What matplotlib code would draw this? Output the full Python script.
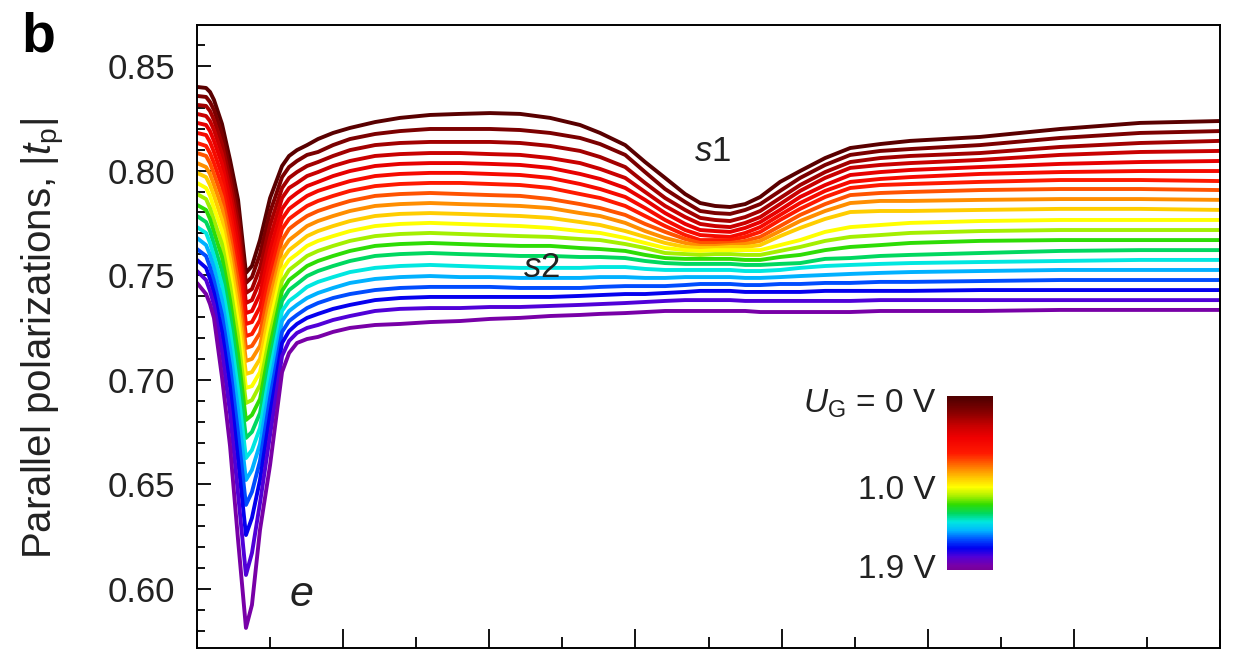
import numpy as np
import matplotlib
matplotlib.use("Agg")
import matplotlib.pyplot as plt
from matplotlib.colors import LinearSegmentedColormap, Normalize
from matplotlib.cm import ScalarMappable
from matplotlib.ticker import MultipleLocator, FormatStrFormatter

plt.rcParams["font.family"] = ["Liberation Sans", "DejaVu Sans"]
plt.rcParams["mathtext.fontset"] = "custom"
plt.rcParams["mathtext.rm"] = "Liberation Sans"
plt.rcParams["mathtext.it"] = "Liberation Sans:italic"
plt.rcParams["mathtext.bf"] = "Liberation Sans:bold"

TEXT = "#222222"

# x positions of the sampled points (axis in major-tick units, labels cropped off)
x_pos = [0.000, 0.062, 0.089, 0.116, 0.171, 0.226, 0.281, 0.335, 0.376, 0.431,
         0.500, 0.582, 0.630, 0.684, 0.753, 0.828, 0.931, 1.047, 1.218, 1.389,
         1.595, 1.800, 2.005, 2.211, 2.416, 2.621, 2.758, 2.930, 3.066, 3.203,
         3.340, 3.443, 3.545, 3.648, 3.751, 3.854, 3.990, 4.127, 4.298, 4.470,
         4.675, 4.880, 5.359, 5.907, 6.454, 7.000]

gate_voltages = [0.0, 0.1, 0.2, 0.3, 0.4, 0.5, 0.6, 0.7, 0.8, 0.9,
                 1.0, 1.1, 1.2, 1.3, 1.4, 1.5, 1.6, 1.7, 1.8, 1.9]

# |t_p|, one row per gate voltage
tp_rows = [
    [0.8400, 0.8395, 0.8376, 0.8338, 0.8223, 0.8051, 0.7860, 0.7511, 0.7544, 0.7668,
     0.7869, 0.8022, 0.8070, 0.8098, 0.8122, 0.8151, 0.8180, 0.8204, 0.8232, 0.8252,
     0.8266, 0.8271, 0.8275, 0.8271, 0.8252, 0.8218, 0.8180, 0.8122, 0.8041, 0.7965,
     0.7888, 0.7845, 0.7831, 0.7826, 0.7840, 0.7874, 0.7946, 0.7998, 0.8060, 0.8108,
     0.8127, 0.8142, 0.8161, 0.8199, 0.8228, 0.8237],  # 0.0 V
    [0.8357, 0.8352, 0.8328, 0.8290, 0.8175, 0.8003, 0.7807, 0.7463, 0.7491, 0.7601,
     0.7802, 0.7969, 0.8017, 0.8046, 0.8075, 0.8089, 0.8122, 0.8151, 0.8175, 0.8189,
     0.8199, 0.8199, 0.8199, 0.8194, 0.8180, 0.8156, 0.8127, 0.8075, 0.7993, 0.7912,
     0.7850, 0.7807, 0.7797, 0.7793, 0.7812, 0.7840, 0.7903, 0.7965, 0.8027, 0.8075,
     0.8094, 0.8103, 0.8122, 0.8156, 0.8180, 0.8189],  # 0.1 V
    [0.8314, 0.8309, 0.8285, 0.8242, 0.8127, 0.7955, 0.7754, 0.7415, 0.7434, 0.7535,
     0.7740, 0.7917, 0.7965, 0.7993, 0.8022, 0.8041, 0.8070, 0.8098, 0.8122, 0.8132,
     0.8137, 0.8137, 0.8137, 0.8132, 0.8118, 0.8094, 0.8065, 0.8017, 0.7941, 0.7869,
     0.7812, 0.7774, 0.7764, 0.7759, 0.7778, 0.7807, 0.7869, 0.7931, 0.7993, 0.8041,
     0.8060, 0.8070, 0.8084, 0.8113, 0.8132, 0.8142],  # 0.2 V
    [0.8271, 0.8261, 0.8237, 0.8194, 0.8079, 0.7907, 0.7702, 0.7367, 0.7381, 0.7472,
     0.7678, 0.7869, 0.7917, 0.7941, 0.7974, 0.7993, 0.8022, 0.8046, 0.8070, 0.8079,
     0.8084, 0.8084, 0.8079, 0.8075, 0.8060, 0.8036, 0.8008, 0.7965, 0.7898, 0.7831,
     0.7778, 0.7745, 0.7735, 0.7730, 0.7750, 0.7778, 0.7840, 0.7903, 0.7965, 0.8013,
     0.8027, 0.8036, 0.8051, 0.8075, 0.8089, 0.8094],  # 0.3 V
    [0.8228, 0.8218, 0.8189, 0.8142, 0.8032, 0.7860, 0.7649, 0.7319, 0.7329, 0.7410,
     0.7620, 0.7817, 0.7864, 0.7893, 0.7926, 0.7946, 0.7974, 0.7998, 0.8022, 0.8032,
     0.8036, 0.8036, 0.8032, 0.8027, 0.8013, 0.7984, 0.7960, 0.7917, 0.7860, 0.7797,
     0.7745, 0.7716, 0.7711, 0.7707, 0.7726, 0.7754, 0.7812, 0.7874, 0.7931, 0.7979,
     0.7993, 0.8003, 0.8017, 0.8032, 0.8041, 0.8046],  # 0.4 V
    [0.8180, 0.8170, 0.8137, 0.8089, 0.7979, 0.7802, 0.7592, 0.7267, 0.7276, 0.7348,
     0.7563, 0.7769, 0.7817, 0.7845, 0.7879, 0.7903, 0.7926, 0.7950, 0.7974, 0.7984,
     0.7989, 0.7989, 0.7984, 0.7979, 0.7965, 0.7936, 0.7912, 0.7874, 0.7821, 0.7764,
     0.7716, 0.7692, 0.7687, 0.7683, 0.7702, 0.7730, 0.7788, 0.7845, 0.7903, 0.7946,
     0.7960, 0.7969, 0.7984, 0.7993, 0.7998, 0.7998],  # 0.5 V
    [0.8132, 0.8118, 0.8084, 0.8036, 0.7926, 0.7750, 0.7530, 0.7209, 0.7219, 0.7286,
     0.7506, 0.7721, 0.7769, 0.7797, 0.7831, 0.7855, 0.7879, 0.7903, 0.7926, 0.7936,
     0.7941, 0.7941, 0.7936, 0.7931, 0.7917, 0.7888, 0.7869, 0.7831, 0.7783, 0.7735,
     0.7692, 0.7668, 0.7668, 0.7668, 0.7683, 0.7707, 0.7764, 0.7817, 0.7874, 0.7917,
     0.7931, 0.7936, 0.7946, 0.7955, 0.7955, 0.7950],  # 0.6 V
    [0.8084, 0.8070, 0.8036, 0.7984, 0.7874, 0.7692, 0.7472, 0.7152, 0.7162, 0.7224,
     0.7448, 0.7668, 0.7721, 0.7750, 0.7783, 0.7807, 0.7831, 0.7855, 0.7879, 0.7888,
     0.7893, 0.7888, 0.7883, 0.7879, 0.7864, 0.7840, 0.7821, 0.7788, 0.7745, 0.7707,
     0.7673, 0.7654, 0.7654, 0.7654, 0.7664, 0.7683, 0.7735, 0.7788, 0.7840, 0.7883,
     0.7893, 0.7898, 0.7907, 0.7912, 0.7912, 0.7907],  # 0.7 V
    [0.8036, 0.8017, 0.7984, 0.7931, 0.7821, 0.7635, 0.7405, 0.7090, 0.7100, 0.7162,
     0.7391, 0.7620, 0.7668, 0.7697, 0.7735, 0.7759, 0.7783, 0.7807, 0.7831, 0.7840,
     0.7845, 0.7840, 0.7836, 0.7831, 0.7821, 0.7797, 0.7783, 0.7750, 0.7711, 0.7678,
     0.7654, 0.7640, 0.7640, 0.7644, 0.7649, 0.7664, 0.7711, 0.7759, 0.7807, 0.7845,
     0.7855, 0.7855, 0.7860, 0.7864, 0.7864, 0.7860],  # 0.8 V
    [0.7989, 0.7969, 0.7931, 0.7879, 0.7764, 0.7578, 0.7343, 0.7028, 0.7037, 0.7100,
     0.7334, 0.7573, 0.7620, 0.7649, 0.7687, 0.7711, 0.7735, 0.7759, 0.7783, 0.7793,
     0.7797, 0.7793, 0.7788, 0.7783, 0.7774, 0.7754, 0.7740, 0.7711, 0.7683, 0.7654,
     0.7635, 0.7630, 0.7630, 0.7635, 0.7635, 0.7644, 0.7687, 0.7726, 0.7769, 0.7802,
     0.7807, 0.7807, 0.7812, 0.7817, 0.7817, 0.7812],  # 0.9 V
    [0.7941, 0.7917, 0.7879, 0.7821, 0.7711, 0.7515, 0.7276, 0.6961, 0.6970, 0.7037,
     0.7276, 0.7525, 0.7573, 0.7601, 0.7640, 0.7664, 0.7687, 0.7711, 0.7735, 0.7745,
     0.7750, 0.7745, 0.7740, 0.7735, 0.7726, 0.7711, 0.7702, 0.7678, 0.7654, 0.7630,
     0.7620, 0.7616, 0.7620, 0.7620, 0.7620, 0.7620, 0.7644, 0.7668, 0.7707, 0.7730,
     0.7740, 0.7750, 0.7759, 0.7764, 0.7764, 0.7764],  # 1.0 V
    [0.7888, 0.7864, 0.7821, 0.7764, 0.7649, 0.7453, 0.7205, 0.6889, 0.6903, 0.6975,
     0.7219, 0.7472, 0.7525, 0.7554, 0.7592, 0.7616, 0.7640, 0.7664, 0.7687, 0.7697,
     0.7702, 0.7697, 0.7692, 0.7687, 0.7683, 0.7673, 0.7668, 0.7649, 0.7630, 0.7606,
     0.7601, 0.7597, 0.7601, 0.7601, 0.7597, 0.7597, 0.7616, 0.7635, 0.7664, 0.7683,
     0.7692, 0.7702, 0.7711, 0.7716, 0.7716, 0.7716],  # 1.1 V
    [0.7836, 0.7812, 0.7769, 0.7707, 0.7587, 0.7381, 0.7123, 0.6808, 0.6832, 0.6908,
     0.7162, 0.7425, 0.7477, 0.7506, 0.7544, 0.7568, 0.7592, 0.7616, 0.7640, 0.7649,
     0.7654, 0.7649, 0.7644, 0.7640, 0.7640, 0.7630, 0.7625, 0.7616, 0.7597, 0.7582,
     0.7578, 0.7578, 0.7578, 0.7578, 0.7573, 0.7573, 0.7587, 0.7597, 0.7620, 0.7635,
     0.7644, 0.7654, 0.7664, 0.7668, 0.7668, 0.7668],  # 1.2 V
    [0.7783, 0.7754, 0.7711, 0.7649, 0.7520, 0.7310, 0.7042, 0.6722, 0.6751, 0.6841,
     0.7104, 0.7377, 0.7429, 0.7458, 0.7496, 0.7520, 0.7544, 0.7568, 0.7592, 0.7601,
     0.7606, 0.7601, 0.7597, 0.7592, 0.7592, 0.7587, 0.7587, 0.7582, 0.7568, 0.7558,
     0.7554, 0.7554, 0.7554, 0.7554, 0.7549, 0.7549, 0.7554, 0.7558, 0.7578, 0.7582,
     0.7592, 0.7597, 0.7606, 0.7616, 0.7620, 0.7620],  # 1.3 V
    [0.7730, 0.7702, 0.7654, 0.7592, 0.7453, 0.7233, 0.6951, 0.6626, 0.6664, 0.6770,
     0.7042, 0.7329, 0.7377, 0.7405, 0.7444, 0.7468, 0.7491, 0.7515, 0.7535, 0.7544,
     0.7549, 0.7544, 0.7539, 0.7535, 0.7535, 0.7535, 0.7539, 0.7539, 0.7530, 0.7525,
     0.7525, 0.7525, 0.7525, 0.7525, 0.7520, 0.7520, 0.7525, 0.7535, 0.7544, 0.7549,
     0.7554, 0.7558, 0.7563, 0.7568, 0.7573, 0.7573],  # 1.4 V
    [0.7678, 0.7644, 0.7597, 0.7535, 0.7381, 0.7152, 0.6856, 0.6521, 0.6569, 0.6693,
     0.6980, 0.7281, 0.7329, 0.7358, 0.7391, 0.7415, 0.7439, 0.7463, 0.7482, 0.7491,
     0.7496, 0.7491, 0.7491, 0.7487, 0.7487, 0.7487, 0.7491, 0.7491, 0.7487, 0.7487,
     0.7491, 0.7491, 0.7491, 0.7491, 0.7487, 0.7487, 0.7491, 0.7496, 0.7501, 0.7506,
     0.7511, 0.7515, 0.7520, 0.7525, 0.7525, 0.7525],  # 1.5 V
    [0.7625, 0.7592, 0.7539, 0.7472, 0.7310, 0.7066, 0.6746, 0.6402, 0.6464, 0.6612,
     0.6913, 0.7229, 0.7281, 0.7310, 0.7343, 0.7367, 0.7391, 0.7410, 0.7429, 0.7439,
     0.7444, 0.7444, 0.7444, 0.7439, 0.7439, 0.7439, 0.7444, 0.7448, 0.7448, 0.7448,
     0.7453, 0.7458, 0.7458, 0.7458, 0.7453, 0.7453, 0.7458, 0.7458, 0.7463, 0.7463,
     0.7468, 0.7468, 0.7472, 0.7477, 0.7477, 0.7477],  # 1.6 V
    [0.7573, 0.7535, 0.7482, 0.7415, 0.7229, 0.6966, 0.6617, 0.6258, 0.6340, 0.6521,
     0.6837, 0.7176, 0.7233, 0.7267, 0.7296, 0.7315, 0.7339, 0.7358, 0.7381, 0.7391,
     0.7396, 0.7396, 0.7396, 0.7396, 0.7396, 0.7401, 0.7405, 0.7410, 0.7410, 0.7415,
     0.7420, 0.7425, 0.7425, 0.7425, 0.7420, 0.7420, 0.7420, 0.7420, 0.7425, 0.7425,
     0.7425, 0.7425, 0.7429, 0.7429, 0.7429, 0.7429],  # 1.7 V
    [0.7520, 0.7477, 0.7425, 0.7358, 0.7133, 0.6841, 0.6454, 0.6067, 0.6172, 0.6411,
     0.6736, 0.7114, 0.7186, 0.7224, 0.7248, 0.7262, 0.7286, 0.7305, 0.7329, 0.7339,
     0.7343, 0.7343, 0.7348, 0.7348, 0.7353, 0.7358, 0.7362, 0.7367, 0.7372, 0.7377,
     0.7381, 0.7381, 0.7381, 0.7381, 0.7377, 0.7377, 0.7377, 0.7377, 0.7377, 0.7377,
     0.7381, 0.7381, 0.7381, 0.7381, 0.7381, 0.7381],  # 1.8 V
    [0.7463, 0.7410, 0.7362, 0.7296, 0.7013, 0.6684, 0.6234, 0.5814, 0.5924, 0.6282,
     0.6593, 0.7037, 0.7128, 0.7176, 0.7195, 0.7205, 0.7229, 0.7248, 0.7262, 0.7267,
     0.7276, 0.7281, 0.7291, 0.7296, 0.7305, 0.7310, 0.7315, 0.7319, 0.7324, 0.7329,
     0.7329, 0.7329, 0.7329, 0.7329, 0.7329, 0.7324, 0.7324, 0.7324, 0.7324, 0.7324,
     0.7329, 0.7329, 0.7329, 0.7334, 0.7334, 0.7334],  # 1.9 V
]

yticks = [0.60, 0.65, 0.70, 0.75, 0.80, 0.85]
cbar_ticks = [0.0, 1.0, 1.9]
cbar_labels = [r"$U_{\mathrm{G}}$ = 0 V", "1.0 V", "1.9 V"]

# colour scale of the gate voltage
cmap = LinearSegmentedColormap.from_list("ug", [
    (0.000, "#500000"), (0.025, "#5a0000"), (0.100, "#8c0000"),
    (0.170, "#c80000"), (0.240, "#f00000"), (0.330, "#ff1a00"),
    (0.400, "#ff7000"), (0.470, "#ffc800"), (0.525, "#ffff00"),
    (0.575, "#a8f000"), (0.625, "#30dc00"), (0.675, "#00d860"),
    (0.725, "#00e8e0"), (0.775, "#00b4ff"), (0.825, "#0050ff"),
    (0.875, "#0000f0"), (0.925, "#5000d8"), (0.975, "#7800a8"),
    (1.000, "#780098"),
])
norm = Normalize(vmin=-0.05, vmax=1.95)

W, H = 1247, 650
fig = plt.figure(figsize=(W / 100, H / 100), dpi=100)
ax = fig.add_axes([197 / W, 1 - 648 / H, (1220 - 197) / W, (648 - 25) / H])

for ug, row in zip(gate_voltages, tp_rows):
    ax.plot(x_pos, row, color=cmap(norm(ug)), lw=2.8,
            solid_joinstyle="round", solid_capstyle="round")

ax.set_xlim(0, 7)
ax.set_ylim(0.5718, 0.8696)
ax.xaxis.set_major_locator(MultipleLocator(1))
ax.xaxis.set_minor_locator(MultipleLocator(0.5))
ax.set_yticks(yticks)
ax.yaxis.set_major_formatter(FormatStrFormatter("%.2f"))
ax.yaxis.set_minor_locator(MultipleLocator(0.01))
ax.tick_params(axis="both", which="both", direction="in", colors="black",
               labelcolor=TEXT, width=1.3)
ax.tick_params(axis="y", which="major", length=10, labelsize=25, pad=16)
ax.tick_params(axis="y", which="minor", length=6)
ax.tick_params(axis="x", which="major", length=14, labelbottom=False)
ax.tick_params(axis="x", which="minor", length=8)
for sp in ax.spines.values():
    sp.set_linewidth(1.4)

ax.set_ylabel(r"Parallel polarizations, $|t_{\mathrm{p}}|$", fontsize=29, color=TEXT)
ax.yaxis.set_label_coords(-0.127, 0.497)

ax.text(3.525, 0.8089, r"$s$1", fontsize=25, color=TEXT, ha="center", va="center")
ax.text(2.355, 0.7535, r"$s$2", fontsize=25, color=TEXT, ha="center", va="center")
ax.text(0.712, 0.597, r"$e$", fontsize=31, color=TEXT, ha="center", va="center")

fig.text(0.017, 1 - 12 / H, "b", fontsize=40, fontweight="bold", color="black",
         ha="left", va="top")

# colour bar for the gate voltage
cax = fig.add_axes([947 / W, 1 - 570 / H, 46 / W, 174 / H])
cb = fig.colorbar(ScalarMappable(norm=norm, cmap=cmap), cax=cax)
cb.outline.set_visible(False)
cax.invert_yaxis()
cax.yaxis.set_ticks_position("left")
cb.set_ticks(cbar_ticks)
cb.set_ticklabels(cbar_labels)
cax.tick_params(length=0, labelsize=24, labelcolor=TEXT, pad=8)

fig.savefig("out.png", dpi=100)
